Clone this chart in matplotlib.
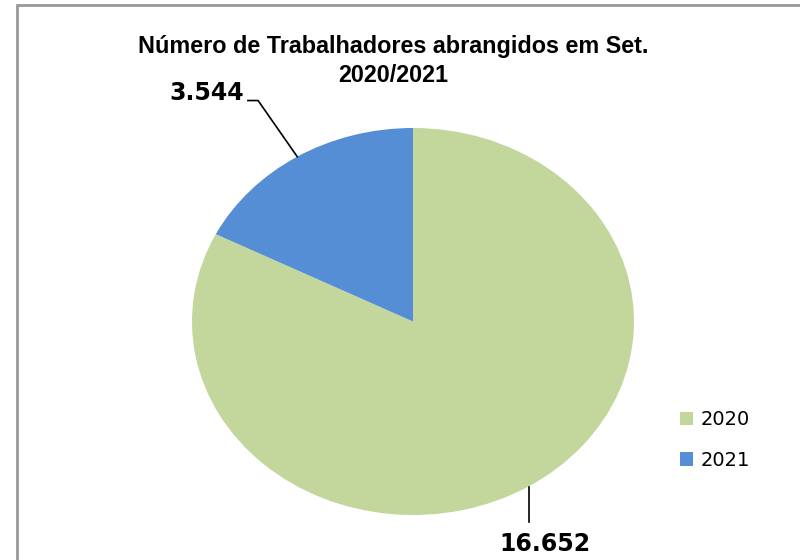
import matplotlib
matplotlib.use("Agg")
import matplotlib.pyplot as plt
import numpy as np
from matplotlib.patches import Rectangle

# data
years = ['2020', '2021']
workers = [16652, 3544]
value_labels = ['16.652', '3.544']
colors = ['#C3D69B', '#558ED5']
title_lines = ['Número de Trabalhadores abrangidos em Set.', '2020/2021']

fig = plt.figure(figsize=(8, 5.6), dpi=100)

# chart border (gray frame, runs off right/bottom edges)
fig.patches.append(Rectangle((16.5 / 800, -0.05), 1.0, 1 - 5 / 560 + 0.05,
                             transform=fig.transFigure, fill=False,
                             edgecolor='#999999', linewidth=2))

# axes sized so the pie is stretched into an ellipse as in the original
ax = fig.add_axes([192 / 800, 45 / 560, 442 / 800, 387 / 560])
wedges, _ = ax.pie(workers, colors=colors, startangle=90, counterclock=False,
                   radius=1, wedgeprops=dict(linewidth=0))
ax.set_aspect('auto')
ax.set_xlim(-1, 1)
ax.set_ylim(-1, 1)
ax.axis('off')

# value labels with leader lines
for w, lab in zip(wedges, value_labels):
    mid = np.deg2rad((w.theta1 + w.theta2) / 2)
    x0, y0 = np.cos(mid), np.sin(mid)
    if y0 > 0:
        pts = [(x0, y0), (-0.701, 1.142), (-0.747, 1.142)]
        ax.text(-0.765, 1.18, lab, ha='right', va='center', fontsize=17,
                fontweight='bold', family='DejaVu Sans', clip_on=False)
    else:
        pts = [(x0, y0 - 0.005), (x0, -1.034)]
        ax.text(x0 + 0.075, -1.15, lab, ha='center', va='center', fontsize=17,
                fontweight='bold', family='DejaVu Sans', clip_on=False)
    xs, ys = zip(*pts)
    ax.plot(xs, ys, color='black', linewidth=1.2, clip_on=False)

# title, two centred lines
for line, ypix in zip(title_lines, [46, 75]):
    fig.text(393 / 800, 1 - ypix / 560, line, ha='center', va='center',
             fontsize=16.8, fontweight='bold', family='Liberation Sans')

leg = fig.legend(wedges, years, loc='center left',
                 bbox_to_anchor=(662 / 800, 1 - 440 / 560), frameon=False,
                 prop={'family': 'DejaVu Sans', 'size': 14},
                 handlelength=0.7, handleheight=0.7, handletextpad=0.4,
                 labelspacing=1.1)

fig.savefig('out.png', dpi=100)
